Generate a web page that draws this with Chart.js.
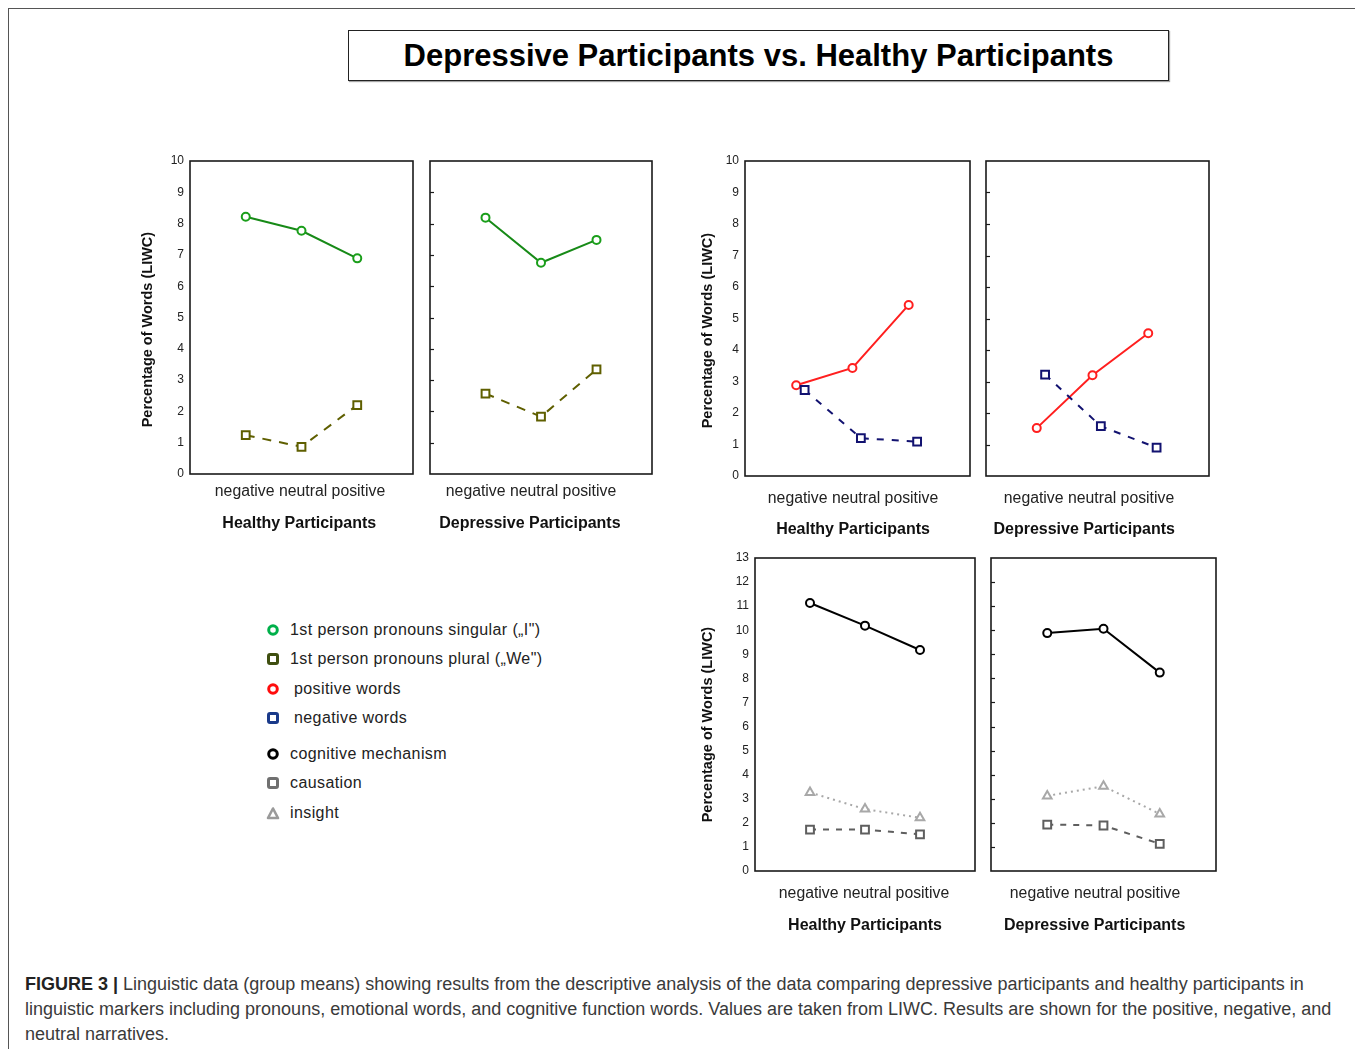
<!DOCTYPE html>
<html>
<head>
<meta charset="utf-8">
<script src="https://cdn.jsdelivr.net/npm/chart.js@4.4.1/dist/chart.umd.min.js"></script>
<style>
  html, body { margin: 0; padding: 0; background: #fff; }
  body { width: 1355px; height: 1049px; position: relative; overflow: hidden; font-family: "Liberation Sans", Arial, sans-serif; }
  .frame { position: absolute; left: 8px; top: 8px; width: 1360px; height: 1060px; border-top: 1.5px solid #555; border-left: 1.5px solid #555; }
  .title { position: absolute; left: 348px; top: 30px; width: 819px; height: 49px; border: 1px solid #222; box-shadow: 1px 1px 1px rgba(0,0,0,0.35);
           text-align: center; font-weight: bold; font-size: 31px; line-height: 49px; color: #000; }
  canvas.panel { position: absolute; }
  .legend { position: absolute; left: 264px; top: 0; }
  .legend .row { position: absolute; left: 0; height: 20px; white-space: nowrap; font-size: 16px; letter-spacing: 0.4px; color: #222; }
  .legend svg { position: absolute; left: 1px; top: 3px; }
  .legend span { position: absolute; top: 1px; line-height: 18px; }
  .caption { position: absolute; left: 25px; top: 972px; font-size: 18px; line-height: 25px; color: #3a3a3a; white-space: nowrap; }
  .caption b { color: #222; }
</style>
</head>
<body>
<div class="frame"></div>
<div class="title">Depressive Participants vs. Healthy Participants</div>
<div class="legend" id="legend"></div>
<div class="caption"><b>FIGURE 3 |</b> Linguistic data (group means) showing results from the descriptive analysis of the data comparing depressive participants and healthy participants in<br>linguistic markers including pronouns, emotional words, and cognitive function words. Values are taken from LIWC. Results are shown for the positive, negative, and<br>neutral narratives.</div>
<script>
// narrative conditions (x axis)
const phases = ['negative', 'neutral', 'positive'];
const groups = ['Healthy Participants', 'Depressive Participants'];
const yTitle = 'Percentage of Words (LIWC)';

// pronouns
const healthyI = [8.22, 7.77, 6.89];
const healthyWe = [1.24, 0.87, 2.2];
const depressiveI = [8.19, 6.75, 7.48];
const depressiveWe = [2.57, 1.83, 3.34];

// emotional words
const healthyPositive = [2.88, 3.43, 5.43];
const healthyNegative = [2.73, 1.2, 1.09];
const depressivePositive = [1.52, 3.2, 4.53];
const depressiveNegative = [3.22, 1.58, 0.9];

// cognitive function words
const healthyCognitive = [11.13, 10.19, 9.18];
const healthyInsight = [3.26, 2.57, 2.21];
const healthyCausation = [1.72, 1.72, 1.52];
const depressiveCognitive = [9.88, 10.06, 8.24];
const depressiveInsight = [3.12, 3.52, 2.37];
const depressiveCausation = [1.93, 1.89, 1.13];

const yMaxPronouns = 10;
const yMaxEmotion = 10;
const yMaxCognitive = 13;

const FONT = '"Liberation Sans", Arial, sans-serif';
const NBSP = '\u00a0';

const styles = {
  I:        { label: '1st person pronouns singular („I")', borderColor: '#178a17', pointBorderColor: '#1a9e1a', pointStyle: 'circle', borderDash: [], radius: 4 },
  We:       { label: '1st person pronouns plural („We")', borderColor: '#5f5f00', pointBorderColor: '#5f5f00', pointStyle: 'rect', borderDash: [9, 8], radius: 5.5 },
  positive: { label: 'positive words', borderColor: '#ff1f1f', pointBorderColor: '#ff1f1f', pointStyle: 'circle', borderDash: [], radius: 4, dodge: -0.09, order: 1 },
  negative: { label: 'negative words', borderColor: '#121270', pointBorderColor: '#121270', pointStyle: 'rect', borderDash: [7, 8], radius: 5.5, dodge: 0.06, order: 0 },
  cognitive:{ label: 'cognitive mechanism', borderColor: '#000', pointBorderColor: '#000', pointStyle: 'circle', borderDash: [], radius: 4 },
  causation:{ label: 'causation', borderColor: '#5e5e5e', pointBorderColor: '#5e5e5e', pointStyle: 'rect', borderDash: [6, 7], radius: 5.5 },
  insight:  { label: 'insight', borderColor: '#a8a8a8', pointBorderColor: '#a8a8a8', pointStyle: 'triangle', borderDash: [2, 4], radius: 5 }
};

function series(values, key) {
  const s = styles[key];
  return {
    label: s.label,
    data: values.map((v, i) => ({ x: i + 1 + (s.dodge || 0), y: v })),
    borderColor: s.borderColor,
    borderWidth: 2,
    borderDash: s.borderDash,
    pointStyle: s.pointStyle,
    pointRadius: s.radius,
    pointBorderColor: s.pointBorderColor,
    pointBorderWidth: 2,
    pointBackgroundColor: '#fff',
    fill: false,
    tension: 0,
    order: s.order || 0
  };
}

// outline box around each plot area, inner tick marks on the right-hand panels
const framePlugin = {
  id: 'frame',
  afterDraw(chart, args, opts) {
    const { ctx, chartArea: a } = chart;
    ctx.save();
    ctx.strokeStyle = '#1a1a1a';
    ctx.lineWidth = 1.6;
    ctx.strokeRect(a.left, a.top, a.right - a.left, a.bottom - a.top);
    if (opts.innerTicks) {
      const y = chart.scales.y;
      ctx.lineWidth = 1.2;
      y.ticks.forEach(t => {
        if (t.value <= y.min || t.value >= y.max) return;
        const py = Math.round(y.getPixelForValue(t.value)) + 0.5;
        ctx.beginPath();
        ctx.moveTo(a.left, py);
        ctx.lineTo(a.left + 4, py);
        ctx.stroke();
      });
    }
    ctx.restore();
  }
};

// plot-area boxes in page pixels; shift = label offset, gap = nbsp count pushing the centred titles
const panels = [
  { left: 190, top: 161, w: 223, h: 313, axisLeft: 130, ymax: yMaxPronouns, group: 0, tickPad: 8, titlePad: 11, shift: -1.5, gap: 1, yGap: 6,
    datasets: () => [series(healthyI, 'I'), series(healthyWe, 'We')] },
  { left: 428, top: 161, w: 224, h: 313, ymax: yMaxPronouns, group: 1, tickPad: 8, titlePad: 11, shift: -10, gap: 5,
    datasets: () => [series(depressiveI, 'I'), series(depressiveWe, 'We')] },
  { left: 745, top: 161, w: 225, h: 315, axisLeft: 690, ymax: yMaxEmotion, group: 0, tickPad: 13, titlePad: 7, shift: -4.5, gap: 2, yGap: 6,
    datasets: () => [series(healthyPositive, 'positive'), series(healthyNegative, 'negative')] },
  { left: 984, top: 161, w: 225, h: 315, ymax: yMaxEmotion, group: 1, tickPad: 13, titlePad: 7, shift: -8.5, gap: 6,
    datasets: () => [series(depressivePositive, 'positive'), series(depressiveNegative, 'negative')] },
  { left: 755, top: 558, w: 220, h: 313, axisLeft: 690, ymax: yMaxCognitive, group: 0, tickPad: 13, titlePad: 6, shift: -1, gap: 0, yGap: 5,
    datasets: () => [series(healthyCognitive, 'cognitive'), series(healthyInsight, 'insight'), series(healthyCausation, 'causation')] },
  { left: 989, top: 558, w: 227, h: 313, ymax: yMaxCognitive, group: 1, tickPad: 13, titlePad: 6, shift: -8.5, gap: 4,
    datasets: () => [series(depressiveCognitive, 'cognitive'), series(depressiveInsight, 'insight'), series(depressiveCausation, 'causation')] }
];

const PAD_TOP = 10, PAD_RIGHT = 4, X_AXIS_H = 70;

panels.forEach(p => {
  const hasAxis = p.axisLeft !== undefined;
  const canvasLeft = hasAxis ? p.axisLeft : p.left - 2;
  const axisW = p.left - canvasLeft;
  const cv = document.createElement('canvas');
  cv.className = 'panel';
  cv.width = axisW + p.w + PAD_RIGHT;
  cv.height = PAD_TOP + p.h + X_AXIS_H;
  cv.style.left = canvasLeft + 'px';
  cv.style.top = (p.top - PAD_TOP) + 'px';
  document.body.appendChild(cv);

  new Chart(cv, {
    type: 'line',
    data: { datasets: p.datasets() },
    plugins: [framePlugin],
    options: {
      responsive: false,
      animation: false,
      devicePixelRatio: 1,
      layout: { autoPadding: false, padding: { top: PAD_TOP, right: PAD_RIGHT, left: hasAxis ? 0 : 2, bottom: 0 } },
      plugins: { legend: { display: false }, tooltip: { enabled: false }, frame: { innerTicks: !hasAxis } },
      scales: {
        x: {
          type: 'linear', min: 0, max: 4,
          // the three condition names are printed as one centred line under the plot
          afterBuildTicks: s => { s.ticks = [{ value: 2 }]; },
          afterFit: s => { s.height = X_AXIS_H; s.paddingLeft = 0; s.paddingRight = 0; },
          grid: { display: false, drawTicks: false },
          border: { display: false },
          ticks: { padding: p.tickPad, autoSkip: false, maxRotation: 0, color: '#222', labelOffset: p.shift,
                   font: { family: FONT, size: 15.8 }, callback: () => phases.join(' ') },
          title: { display: true, text: groups[p.group] + NBSP.repeat(p.gap), color: '#111',
                   font: { family: FONT, size: 16, weight: 'bold' }, padding: { top: 0, bottom: p.titlePad } }
        },
        y: {
          display: hasAxis,
          min: 0, max: p.ymax,
          afterFit: s => { s.width = axisW; s.paddingTop = 0; s.paddingBottom = 0; },
          grid: { display: false, drawTicks: false },
          border: { display: false },
          ticks: { stepSize: 1, padding: 6, color: '#222', font: { family: FONT, size: 12 } },
          title: { display: true, text: yTitle + NBSP.repeat(p.yGap || 0), color: '#111',
                   font: { family: FONT, size: 14.5, weight: 'bold' }, padding: { top: 9, bottom: 0 } }
        }
      }
    }
  });
});

// legend block
const legendRows = [
  { key: 'I', y: 630, x: 26, shape: 'circle', color: '#00b04a' },
  { key: 'We', y: 659, x: 26, shape: 'square', color: '#3f4f10' },
  { key: 'positive', y: 689, x: 30, shape: 'circle', color: '#ff0d0d' },
  { key: 'negative', y: 718, x: 30, shape: 'square', color: '#1a3a8a' },
  { key: 'cognitive', y: 754, x: 26, shape: 'circle', color: '#000' },
  { key: 'causation', y: 783, x: 26, shape: 'square', color: '#707070' },
  { key: 'insight', y: 813, x: 26, shape: 'triangle', color: '#9a9a9a' }
];
const legendEl = document.getElementById('legend');
legendRows.forEach(r => {
  let mark;
  if (r.shape === 'circle') mark = `<circle cx="8" cy="7" r="4.3" fill="none" stroke="${r.color}" stroke-width="3"/>`;
  else if (r.shape === 'square') mark = `<rect x="3.5" y="2.5" width="9" height="9" rx="1.5" fill="none" stroke="${r.color}" stroke-width="3"/>`;
  else mark = `<polygon points="8,2.5 13,12 3,12" fill="none" stroke="${r.color}" stroke-width="2.6" stroke-linejoin="round"/>`;
  const row = document.createElement('div');
  row.className = 'row';
  row.style.top = (r.y - 10) + 'px';
  row.innerHTML = `<svg width="16" height="14">${mark}</svg><span style="left:${r.x}px">${styles[r.key].label}</span>`;
  legendEl.appendChild(row);
});
</script>
</body>
</html>
